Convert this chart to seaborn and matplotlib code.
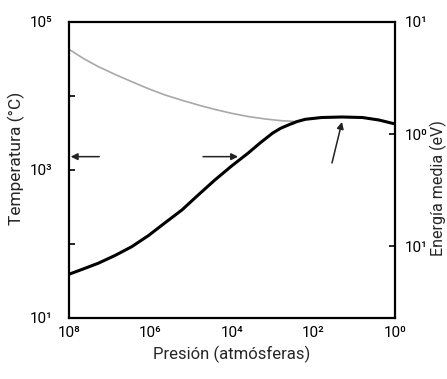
import matplotlib
matplotlib.use("Agg")
import matplotlib.pyplot as plt
import seaborn as sns
import pandas as pd

# Pressure (atm) and temperatures (°C) along the two curves
gas_pressure = [1e-8, 2.24e-8, 5.25e-8, 1.35e-7, 3.47e-7, 8.91e-7, 2.29e-6,
                5.89e-6, 1.48e-5, 3.80e-5, 9.77e-5, 2.51e-4, 5.01e-4, 1e-3,
                1.58e-3, 2.51e-3, 3.98e-3, 6.31e-3, 1.58e-2, 5.01e-2, 0.158,
                0.398, 1.0]
gas_temperature = [39, 46, 55, 70, 92, 130, 194,
                   288, 459, 733, 1132, 1698, 2344, 3162,
                   3673, 4093, 4519, 4842, 5117, 5200, 5117,
                   4742, 4188]

electron_pressure = [1e-8, 2.33e-8, 5.25e-8, 1.35e-7, 3.47e-7, 8.69e-7,
                     2.29e-6, 5.83e-6, 1.48e-5, 3.83e-5, 9.77e-5, 2.47e-4,
                     6.46e-4, 1.66e-3, 4.17e-3]
electron_temperature = [42700, 31770, 24900, 19540, 15600, 12590,
                        10300, 8770, 7550, 6577, 5830, 5284,
                        4890, 4630, 4500]

x_ticks = [1e-8, 1e-7, 1e-6, 1e-5, 1e-4, 1e-3, 1e-2, 1e-1, 1.0]
x_tick_labels = ["10⁸", "", "10⁶", "", "10⁴", "", "10²", "", "10⁰"]
t_ticks = [1e1, 1e2, 1e3, 1e4, 1e5]
t_tick_labels = ["10¹", "", "10³", "", "10⁵"]
e_ticks = [1e-1, 1e0, 1e1]
e_tick_labels = ["10¹", "10⁰", "10¹"]
e_limits = (0.0228, 10.0)

# Arrow annotations: (tail, head) in (pressure, temperature)
arrows = [((5.5e-8, 1514), (1.1e-8, 1514)),
          ((1.95e-5, 1514), (1.41e-4, 1514)),
          ((0.0284, 1245), (0.050, 4460))]

sns.set_style("white")
plt.rcParams["font.family"] = ["Roboto", "DejaVu Sans"]

fig = plt.figure(figsize=(4.47, 3.79), dpi=100)
ax = fig.add_axes([0.1544, 0.161, 0.7293, 0.781])

electron = pd.DataFrame({"p": electron_pressure, "T": electron_temperature})
gas = pd.DataFrame({"p": gas_pressure, "T": gas_temperature})
sns.lineplot(data=electron, x="p", y="T", ax=ax, color="#a8a8a8", lw=1.2,
             estimator=None, sort=False, solid_joinstyle="round")
sns.lineplot(data=gas, x="p", y="T", ax=ax, color="black", lw=2.2,
             estimator=None, sort=False, solid_joinstyle="round",
             solid_capstyle="round")

ax.set_xscale("log")
ax.set_yscale("log")
ax.set_xlim(1e-8, 1.0)
ax.set_ylim(1e1, 1e5)
ax.minorticks_off()
ax.set_xticks(x_ticks)
ax.set_xticklabels(x_tick_labels)
ax.set_yticks(t_ticks)
ax.set_yticklabels(t_tick_labels)
ax.tick_params(axis="both", direction="in", length=4, width=1.2,
               labelsize=11, colors="black")
ax.tick_params(axis="x", pad=6)
ax.tick_params(axis="y", pad=12)
ax.set_xlabel("Presión (atmósferas)", fontsize=12)
ax.set_ylabel("Temperatura (°C)", fontsize=12.5)
ax.yaxis.set_label_coords(-0.135, 0.54)
for s in ax.spines.values():
    s.set_visible(True)
    s.set_color("black")
    s.set_linewidth(1.6)

for (tail, head) in arrows:
    ax.annotate("", xy=head, xytext=tail,
                arrowprops=dict(arrowstyle="-|>", color="#222222", lw=1.1,
                                mutation_scale=10, shrinkA=0, shrinkB=0))

ax2 = ax.twinx()
ax2.set_yscale("log")
ax2.set_ylim(*e_limits)
ax2.minorticks_off()
ax2.set_yticks(e_ticks)
ax2.set_yticklabels(e_tick_labels)
ax2.tick_params(axis="y", direction="in", length=4, width=1.2,
                labelsize=11, pad=7, colors="black")
ax2.set_ylabel("Energía media (eV)", fontsize=11.5)
ax2.yaxis.set_label_coords(1.105, 0.44)
for s in ax2.spines.values():
    s.set_visible(False)

fig.savefig("out.png", dpi=100)
